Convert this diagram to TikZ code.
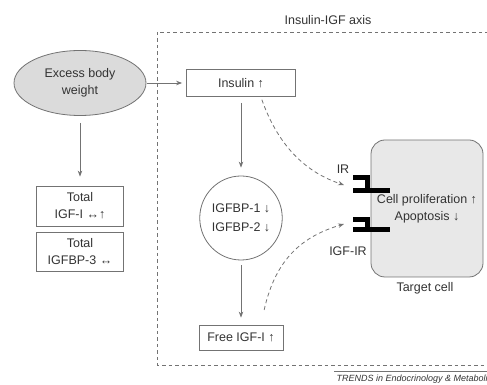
\documentclass[tikz,border=0pt]{standalone}
\usepackage{fontspec}
\setmainfont{Liberation Sans}
\usetikzlibrary{shapes.geometric,arrows.meta}
\definecolor{linegray}{gray}{0.45}
\definecolor{txtgray}{gray}{0.2}
\definecolor{blobgray}{gray}{0.86}
\definecolor{cellgray}{gray}{0.91}
\begin{document}
\begin{tikzpicture}[x=1pt, y=1pt,
    every node/.style = {text=txtgray, font=\fontsize{12.5}{17}\selectfont, align=center},
    box/.style = {draw=linegray, line width=0.8pt, rectangle, inner sep=0pt},
    blob/.style = {draw=linegray, line width=0.8pt, ellipse, inner sep=0pt},
    arr/.style = {draw=linegray, line width=0.8pt, -{Stealth[length=6pt,width=4.5pt]}, shorten >=8pt, shorten <=6pt},
    darr/.style = {arr, dash pattern=on 4pt off 3pt, shorten >=0pt},
    recep/.style = {line width=5pt, black}]
	\useasboundingbox (0,0) rectangle (487,385);
	\clip (0,0) rectangle (487,385);
	% insulin-IGF axis frame
	\draw[linegray, line width=0.8pt, dash pattern=on 3.5pt off 3pt] (157,353) rectangle (500,20);
	\node (axis) at (328,365) {Insulin-IGF axis};
	\node[blob, fill=blobgray, minimum width=132pt, minimum height=65pt] (excess) at (80,302) {Excess body\\weight};
	\node[box, minimum width=87pt, minimum height=40pt] (igf1) at (80,179) {Total\\IGF-I ↔↑};
	\node[box, minimum width=87pt, minimum height=39pt] (igfbp3) at (80,133.5) {Total\\IGFBP-3 ↔};
	\node[box, minimum width=109pt, minimum height=27pt] (insulin) at (241,302) {Insulin ↑};
	\node[blob, minimum width=79pt, minimum height=84pt] (igfbp) at (241,167) {IGFBP-1 ↓\\[2pt]IGFBP-2 ↓};
	\node[box, minimum width=84pt, minimum height=25pt] (free) at (241,47.5) {Free IGF-I ↑};
	\node[box, rounded corners=14pt, fill=cellgray, minimum width=112pt, minimum height=137pt] (cell) at (427,176.5) {Cell proliferation ↑\\Apoptosis ↓};
	\node (target) at (425,97) {Target cell};
	% receptors
	\draw[recep] (353,207.5) -- (367.5,207.5) -- (367.5,194.5);
	\draw[recep] (353,194.5) -- (390,194.5);
	\draw[recep] (353,165.5) -- (367.5,165.5) -- (367.5,155.5);
	\draw[recep] (353,155.5) -- (390,155.5);
	\coordinate (ir) at (344,200);
	\coordinate (igfir) at (344,161);
	\node (irlabel) at (343,216) {IR};
	\node (igfirlabel) at (348,134) {IGF-IR};
	% arrows
	\draw[arr, shorten <=1pt, shorten >=4pt] (excess) -- (insulin);
	\draw[arr, shorten <=7pt, shorten >=9pt] (excess) -- (igf1);
	\draw[arr] (insulin) -- (igfbp);
	\draw[arr, shorten <=5pt, shorten >=7pt] (igfbp) -- (free);
	\draw[darr, shorten <=3pt] (insulin.-35) .. controls (277,243) and (302,214) .. (ir);
	\draw[darr, shorten <=15pt] (free.33) .. controls (276,128) and (304,149) .. (igfir);
	% credit
	\draw[linegray, line width=0.5pt] (334,14) -- (495,14);
	\node[anchor=west, font=\fontsize{9}{10}\selectfont\itshape] (credit) at (333,6) {TRENDS in Endocrinology \& Metabolism};
\end{tikzpicture}
\end{document}
